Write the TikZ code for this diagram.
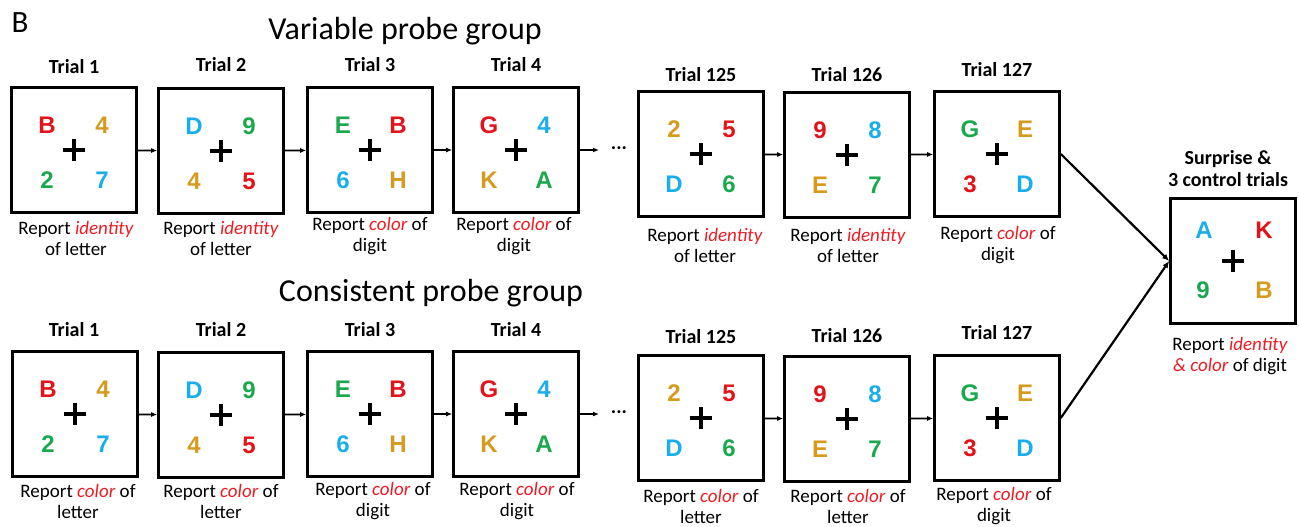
\documentclass[tikz,border=0pt]{standalone}
\usepackage{fontspec}
\setmainfont{Carlito}
\newfontfamily\glyphfont{Liberation Sans}
\usetikzlibrary{calc,arrows.meta}
\definecolor{cred}{RGB}{226,20,26}
\definecolor{corg}{RGB}{214,154,28}
\definecolor{cgrn}{RGB}{26,168,78}
\definecolor{ccyn}{RGB}{24,174,236}
\definecolor{hl}{RGB}{236,28,36}
\newcommand{\colR}[1]{\textcolor{cred}{#1}}
\newcommand{\colO}[1]{\textcolor{corg}{#1}}
\newcommand{\colG}[1]{\textcolor{cgrn}{#1}}
\newcommand{\colC}[1]{\textcolor{ccyn}{#1}}
\newcommand{\hlw}[1]{\textcolor{hl}{\textit{#1}}}
\tikzset{
  tbox/.style={draw=black, line width=2.6pt, minimum size=125pt, inner sep=0pt},
  glyph/.style={font=\glyphfont\bfseries\fontsize{24}{24}\selectfont, inner sep=0pt},
  plus/.style={line width=4.8pt},
  triallab/.style={font=\bfseries\fontsize{20}{22}\selectfont, inner sep=0pt},
  replab/.style={font=\fontsize{19}{21}\selectfont, align=center, inner sep=0pt},
  title/.style={font=\fontsize{32}{34}\selectfont, inner sep=0pt},
  conn/.style={line width=1.8pt, -{Latex[length=6pt,width=5pt]}},
  bigconn/.style={line width=2.2pt, -{Latex[length=7pt,width=6pt]}},
}
% #1 name, #2 centre, #3 TL, #4 TR, #5 BL, #6 BR
\newcommand{\trialbox}[6]{%
  \node[tbox] (#1) at (#2) {};
  \node[glyph] (#1-tl) at ($(#1.center)+(-27,-25)$) {#3};
  \node[glyph] (#1-tr) at ($(#1.center)+(28,-25)$) {#4};
  \node[glyph] (#1-bl) at ($(#1.center)+(-27,30)$) {#5};
  \node[glyph] (#1-br) at ($(#1.center)+(28,30)$) {#6};
  \draw[plus] ($(#1.center)+(-11,0)$) -- ($(#1.center)+(11,0)$);
  \draw[plus] ($(#1.center)+(0,-11)$) -- ($(#1.center)+(0,11)$);
}
\begin{document}
\begin{tikzpicture}[x=1pt,y=-1pt]
\useasboundingbox (0,0) rectangle (1299,527);

\node[font=\fontsize{31}{31}\selectfont, inner sep=0pt] (lblB) at (20,23) {B};
\node[title] (t1) at (405,31) {Variable probe group};
\node[title] (t2) at (431,293) {Consistent probe group};

% ---------- top row ----------
\trialbox{a1}{74,150}{\colR{B}}{\colO{4}}{\colG{2}}{\colC{7}}
\trialbox{a2}{221,151}{\colC{D}}{\colG{9}}{\colO{4}}{\colR{5}}
\trialbox{a3}{370,150}{\colG{E}}{\colR{B}}{\colC{6}}{\colO{H}}
\trialbox{a4}{516,150}{\colR{G}}{\colC{4}}{\colO{K}}{\colG{A}}
\trialbox{a5}{701,154}{\colO{2}}{\colR{5}}{\colC{D}}{\colG{6}}
\trialbox{a6}{847,155}{\colR{9}}{\colC{8}}{\colO{E}}{\colG{7}}
\trialbox{a7}{997,154}{\colG{G}}{\colO{E}}{\colR{3}}{\colC{D}}

\node[triallab] (a1t) at (74,67) {Trial 1};
\node[triallab] (a2t) at (221,65) {Trial 2};
\node[triallab] (a3t) at (370,65) {Trial 3};
\node[triallab] (a4t) at (516,65) {Trial 4};
\node[triallab] (a5t) at (701,75) {Trial 125};
\node[triallab] (a6t) at (847,75) {Trial 126};
\node[triallab] (a7t) at (997,70) {Trial 127};

\node[replab] (a1r) at (76,238) {Report \hlw{identity}\\of letter};
\node[replab] (a2r) at (221,238) {Report \hlw{identity}\\of letter};
\node[replab] (a3r) at (370,236) {Report \hlw{color} of\\digit};
\node[replab] (a4r) at (514,236) {Report \hlw{color} of\\digit};
\node[replab] (a5r) at (705,245) {Report \hlw{identity}\\of letter};
\node[replab] (a6r) at (848,245) {Report \hlw{identity}\\of letter};
\node[replab] (a7r) at (998,245) {Report \hlw{color} of\\digit};

\draw[conn] (a1) -- (a2);
\draw[conn] (a2) -- (a3);
\draw[conn] (a3) -- (a4);
\coordinate (a4e) at (599,150);
\draw[conn] (a4.east) -- (a4e);
\node[font=\bfseries\fontsize{20}{20}\selectfont, inner sep=0pt] (a4d) at (619,148) {...};
\draw[conn] (a5) -- (a6);
\draw[conn] (a6) -- (a7);

% ---------- bottom row ----------
\trialbox{b1}{75,414}{\colR{B}}{\colO{4}}{\colG{2}}{\colC{7}}
\trialbox{b2}{221,415}{\colC{D}}{\colG{9}}{\colO{4}}{\colR{5}}
\trialbox{b3}{370,414}{\colG{E}}{\colR{B}}{\colC{6}}{\colO{H}}
\trialbox{b4}{516,414}{\colR{G}}{\colC{4}}{\colO{K}}{\colG{A}}
\trialbox{b5}{701,418}{\colO{2}}{\colR{5}}{\colC{D}}{\colG{6}}
\trialbox{b6}{847,419}{\colR{9}}{\colC{8}}{\colO{E}}{\colG{7}}
\trialbox{b7}{997,418}{\colG{G}}{\colO{E}}{\colR{3}}{\colC{D}}

\node[triallab] (b1t) at (74,330) {Trial 1};
\node[triallab] (b2t) at (221,330) {Trial 2};
\node[triallab] (b3t) at (370,330) {Trial 3};
\node[triallab] (b4t) at (516,330) {Trial 4};
\node[triallab] (b5t) at (701,337) {Trial 125};
\node[triallab] (b6t) at (847,336) {Trial 126};
\node[triallab] (b7t) at (997,333) {Trial 127};

\node[replab] (b1r) at (78,501) {Report \hlw{color} of\\letter};
\node[replab] (b2r) at (221,501) {Report \hlw{color} of\\letter};
\node[replab] (b3r) at (373,501) {Report \hlw{color} of\\digit};
\node[replab] (b4r) at (517,501) {Report \hlw{color} of\\digit};
\node[replab] (b5r) at (701,506) {Report \hlw{color} of\\letter};
\node[replab] (b6r) at (848,506) {Report \hlw{color} of\\letter};
\node[replab] (b7r) at (994,506) {Report \hlw{color} of\\digit};

\draw[conn] (b1) -- (b2);
\draw[conn] (b2) -- (b3);
\draw[conn] (b3) -- (b4);
\coordinate (b4e) at (599,414);
\draw[conn] (b4.east) -- (b4e);
\node[font=\bfseries\fontsize{20}{20}\selectfont, inner sep=0pt] (b4d) at (619,412) {...};
\draw[conn] (b5) -- (b6);
\draw[conn] (b6) -- (b7);

% ---------- surprise ----------
\node[tbox] (s) at (1233,261) {};
\node[glyph] (s-tl) at ($(s.center)+(-29,-31)$) {\colC{A}};
\node[glyph] (s-tr) at ($(s.center)+(31,-31)$) {\colR{K}};
\node[glyph] (s-bl) at ($(s.center)+(-30,29)$) {\colG{9}};
\node[glyph] (s-br) at ($(s.center)+(31,29)$) {\colO{B}};
\draw[plus] ($(s.center)+(-11,0)$) -- ($(s.center)+(11,0)$);
\draw[plus] ($(s.center)+(0,-11)$) -- ($(s.center)+(0,11)$);
\node[triallab, align=center] (st) at (1228,169) {Surprise \&\\3 control trials};
\node[replab] (sr) at (1230,356) {Report \hlw{identity}\\\hlw{\& color} of digit};

\draw[bigconn] (a7.east) -- (s.west);
\draw[bigconn] (b7.east) -- (s.west);
\end{tikzpicture}
\end{document}
